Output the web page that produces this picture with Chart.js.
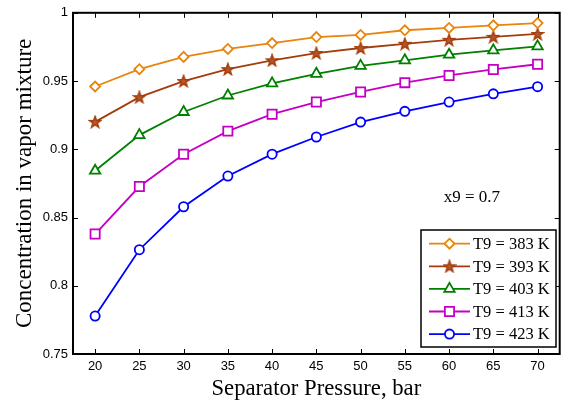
<!DOCTYPE html>
<html>
<head>
<meta charset="utf-8">
<script src="https://cdn.jsdelivr.net/npm/chart.js@4.4.1/dist/chart.umd.min.js"></script>
<style>
  html, body { margin: 0; padding: 0; background: #fff; }
  #wrap { width: 568px; height: 400px; }
</style>
</head>
<body>
<div id="wrap"><canvas id="chart" width="568" height="400"></canvas></div>
<script>
// separator pressure (bar)
const pressures = [20, 25, 30, 35, 40, 45, 50, 55, 60, 65, 70];
const xTicks = [20, 25, 30, 35, 40, 45, 50, 55, 60, 65, 70];
const seriesLabels = ['T9 = 383 K', 'T9 = 393 K', 'T9 = 403 K', 'T9 = 413 K', 'T9 = 423 K'];

const t383 = [0.946, 0.9587, 0.9677, 0.9735, 0.9778, 0.9822, 0.9838, 0.9872, 0.9889, 0.9908, 0.9925];
const t393 = [0.9201, 0.9382, 0.95, 0.9587, 0.9652, 0.9705, 0.9742, 0.9773, 0.9802, 0.9824, 0.9845];
const t403 = [0.8843, 0.9104, 0.9273, 0.9394, 0.9483, 0.9553, 0.9611, 0.9652, 0.9693, 0.9725, 0.9754];
const t413 = [0.8379, 0.8727, 0.8964, 0.9133, 0.9257, 0.9346, 0.942, 0.9488, 0.9541, 0.9585, 0.9623];
const t423 = [0.7778, 0.8264, 0.8579, 0.8804, 0.8964, 0.909, 0.9199, 0.9278, 0.9346, 0.9406, 0.9459];

const noteText = 'x9 = 0.7';

const colors = ['#e8850c', '#a33d0b', '#008000', '#c400c4', '#0000ff'];

// pentagram marker, drawn once on a small canvas
function makeStar(color) {
    const c = document.createElement('canvas');
    c.width = 14; c.height = 14;
    const g = c.getContext('2d');
    const R = 6, r = 2.4;
    g.beginPath();
    for (let i = 0; i < 10; i++) {
        const rad = (i % 2 === 0) ? R : r;
        const a = -Math.PI / 2 + i * Math.PI / 5;
        const px = 7 + rad * Math.cos(a), py = 7.5 + rad * Math.sin(a);
        if (i === 0) g.moveTo(px, py); else g.lineTo(px, py);
    }
    g.closePath();
    g.fillStyle = '#b5582c';
    g.fill();
    g.lineWidth = 1.5;
    g.strokeStyle = color;
    g.stroke();
    return c;
}

const markers = [
    { style: 'rectRot', radius: 5 },
    { style: makeStar(colors[1]), radius: 6 },
    { style: 'triangle', radius: 6 },
    { style: 'rect', radius: 6.5 },
    { style: 'circle', radius: 4.6 }
];

const allSeries = [t383, t393, t403, t413, t423];

const datasets = allSeries.map((vals, i) => ({
    label: seriesLabels[i],
    data: vals.map((v, j) => ({ x: pressures[j], y: v })),
    borderColor: colors[i],
    backgroundColor: '#fff',
    borderWidth: 1.8,
    tension: 0,
    pointStyle: markers[i].style,
    pointRadius: markers[i].radius,
    pointHoverRadius: markers[i].radius,
    pointBorderColor: colors[i],
    pointBackgroundColor: '#fff',
    pointBorderWidth: 1.8
}));

// box, inward ticks on all four sides, note and legend
const framePlugin = {
    id: 'frame',
    afterDatasetsDraw(chart) {
        const ctx = chart.ctx;
        const a = chart.chartArea;
        const xs = chart.scales.x, ys = chart.scales.y;
        ctx.save();
        ctx.strokeStyle = '#000';
        ctx.lineWidth = 1;
        const tl = 5;
        xs.ticks.forEach(t => {
            const px = Math.round(xs.getPixelForValue(t.value)) + 0.5;
            ctx.beginPath();
            ctx.moveTo(px, a.bottom); ctx.lineTo(px, a.bottom - tl);
            ctx.moveTo(px, a.top); ctx.lineTo(px, a.top + tl);
            ctx.stroke();
        });
        ys.ticks.forEach(t => {
            const py = Math.round(ys.getPixelForValue(t.value)) + 0.5;
            ctx.beginPath();
            ctx.moveTo(a.left, py); ctx.lineTo(a.left + tl, py);
            ctx.moveTo(a.right, py); ctx.lineTo(a.right - tl, py);
            ctx.stroke();
        });
        ctx.lineWidth = 2;
        ctx.strokeRect(a.left, a.top, a.right - a.left, a.bottom - a.top);

        // note
        ctx.fillStyle = '#000';
        ctx.font = '17px "Liberation Serif", "Times New Roman", serif';
        ctx.textAlign = 'left';
        ctx.textBaseline = 'middle';
        ctx.fillText(noteText, xs.getPixelForValue(59.4), ys.getPixelForValue(0.865));

        // legend
        const lx = 421, ly = 230, lw = 135, lh = 117;
        ctx.fillStyle = '#fff';
        ctx.fillRect(lx, ly, lw, lh);
        ctx.lineWidth = 1.5;
        ctx.strokeStyle = '#000';
        ctx.strokeRect(lx, ly, lw, lh);
        ctx.font = '16.5px "Liberation Serif", "Times New Roman", serif';
        chart.data.datasets.forEach((ds, i) => {
            const cy = ly + 13.7 + i * 22.6;
            ctx.strokeStyle = ds.borderColor;
            ctx.lineWidth = 1.8;
            ctx.beginPath();
            ctx.moveTo(lx + 8, cy); ctx.lineTo(lx + 49, cy);
            ctx.stroke();
            ctx.fillStyle = '#fff';
            ctx.strokeStyle = ds.borderColor;
            if (Chart.helpers && Chart.helpers.drawPoint) {
                Chart.helpers.drawPoint(ctx, {
                    pointStyle: ds.pointStyle,
                    radius: ds.pointRadius,
                    borderWidth: 1.8,
                    rotation: 0
                }, lx + 28.5, cy);
            }
            ctx.fillStyle = '#000';
            ctx.textAlign = 'left';
            ctx.textBaseline = 'middle';
            ctx.fillText(ds.label, lx + 52, cy + 1);
        });
        ctx.restore();
    }
};

const tickFont = { family: '"Liberation Sans", Arial, sans-serif', size: 13 };

new Chart(document.getElementById('chart'), {
    type: 'line',
    data: { datasets },
    plugins: [framePlugin],
    options: {
        responsive: false,
        animation: false,
        events: [],
        layout: { padding: { top: 9, right: 2, left: 0, bottom: 0 } },
        plugins: {
            legend: { display: false },
            tooltip: { enabled: false }
        },
        scales: {
            x: {
                type: 'linear',
                min: 17.5,
                max: 72.5,
                afterBuildTicks(scale) {
                    scale.ticks = xTicks.map(v => ({ value: v }));
                },
                afterFit(scale) { scale.height = 46; },
                grid: { display: false, drawTicks: false },
                border: { display: false },
                ticks: { color: '#000', font: tickFont, padding: 5, maxRotation: 0 },
                title: {
                    display: true,
                    text: 'Separator Pressure, bar',
                    color: '#000',
                    font: { family: '"Liberation Serif", "Times New Roman", serif', size: 22.7, lineHeight: 1 },
                    padding: { top: 0, bottom: 0 }
                }
            },
            y: {
                min: 0.75,
                max: 1,
                afterFit(scale) { scale.width = 73; },
                grid: { display: false, drawTicks: false },
                border: { display: false },
                ticks: {
                    stepSize: 0.05,
                    color: '#000',
                    font: tickFont,
                    padding: 5,
                    callback: v => String(Number(v.toFixed(2)))
                },
                title: {
                    display: true,
                    text: 'Concentration in vapor mixture',
                    color: '#000',
                    font: { family: '"Liberation Serif", "Times New Roman", serif', size: 23, lineHeight: 1 },
                    padding: { top: 13, bottom: 0 }
                }
            }
        }
    }
});
</script>
</body>
</html>
